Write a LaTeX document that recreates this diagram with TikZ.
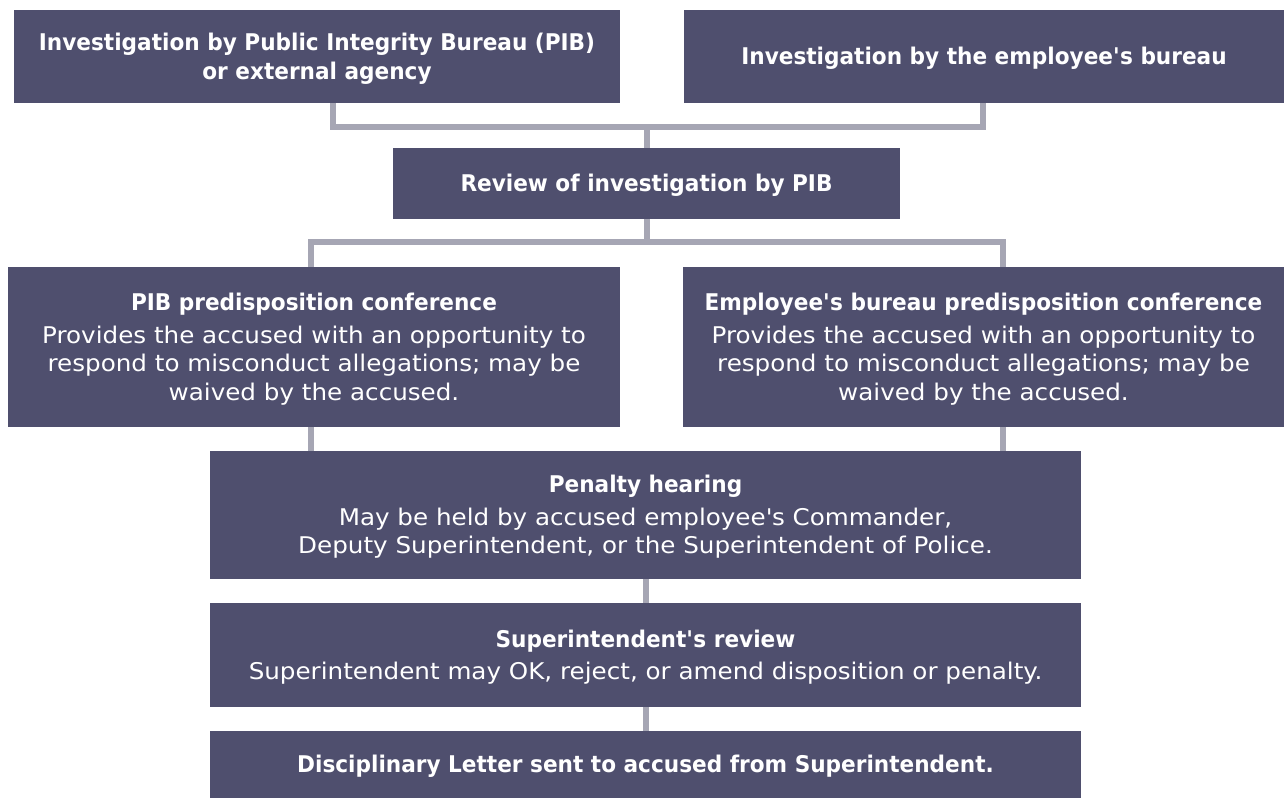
\documentclass[tikz,border=0pt]{standalone}
\usepackage{fontspec}
\newfontfamily\rgfont{DejaVu Sans}[FakeStretch=1.07]
\newfontfamily\bdfont{DejaVu Sans}[FakeStretch=0.94]
\definecolor{boxc}{HTML}{4F4F6E}
\definecolor{linec}{HTML}{A6A6B4}
\newcommand\hd[1]{{\bdfont\bfseries #1}}
\begin{document}
\begin{tikzpicture}[x=1pt,y=-1pt,
  box/.style={fill=boxc,text=white,inner sep=0pt,align=center,
    text depth=-2pt,
    font=\rgfont\fontsize{23}{28.3}\selectfont},
  one/.style={text height=16.8pt},
  two/.style={text height=45.1pt},
  three/.style={text height=49.5pt},
  four/.style={text height=77.8pt},
  five/.style={text height=106.1pt},
  conn/.style={draw=linec,line width=6pt}]
\useasboundingbox (0,0) rectangle (1286,799);
% boxes
\node[box,two,minimum width=606,minimum height=93] (A) at (317,56.5)
  {\hd{Investigation by Public Integrity Bureau (PIB)}\\\hd{or external agency}};
\node[box,one,minimum width=600,minimum height=93] (B) at (984,56.5)
  {\hd{Investigation by the employee\textquotesingle s bureau}};
\node[box,one,minimum width=507,minimum height=71] (C) at (646.5,183.5)
  {\hd{Review of investigation by PIB}};
\node[box,five,minimum width=612,minimum height=160] (D) at (314,347)
  {\hd{PIB predisposition conference}\\[4.4pt]
   Provides the accused with an opportunity to\\
   respond to misconduct allegations; may be\\
   waived by the accused.};
\node[box,five,minimum width=601,minimum height=160] (E) at (983.5,347)
  {\hd{Employee\textquotesingle s bureau predisposition conference}\\[4.4pt]
   Provides the accused with an opportunity to\\
   respond to misconduct allegations; may be\\
   waived by the accused.};
\node[box,four,minimum width=871,minimum height=128] (F) at (645.5,515)
  {\hd{Penalty hearing}\\[4.4pt]
   May be held by accused employee\textquotesingle s Commander,\\
   Deputy Superintendent, or the Superintendent of Police.};
\node[box,three,minimum width=871,minimum height=104] (G) at (645.5,655)
  {\hd{Superintendent\textquotesingle s review}\\[4.4pt]
   Superintendent may OK, reject, or amend disposition or penalty.};
\node[box,one,minimum width=871,minimum height=67] (H) at (645.5,764.5)
  {\hd{Disciplinary Letter sent to accused from Superintendent.}};
% junctions
\coordinate (jA) at (333,127);
\coordinate (jB) at (983,127);
\coordinate (jD) at (311,242);
\coordinate (jE) at (1003,242);
% connectors
\draw[conn] (A.south -| jA) |- (jB) -- (B.south -| jB);
\draw[conn] (C.north) -- (C.north |- jA);
\draw[conn] (C.south) -- (C.south |- jD);
\draw[conn] (D.north -| jD) |- (jE) -- (E.north -| jE);
\draw[conn] (D.south -| jD) -- (F.north -| jD);
\draw[conn] (E.south -| jE) -- (F.north -| jE);
\draw[conn] (F.south) -- (G.north);
\draw[conn] (G.south) -- (H.north);
\end{tikzpicture}
\end{document}
